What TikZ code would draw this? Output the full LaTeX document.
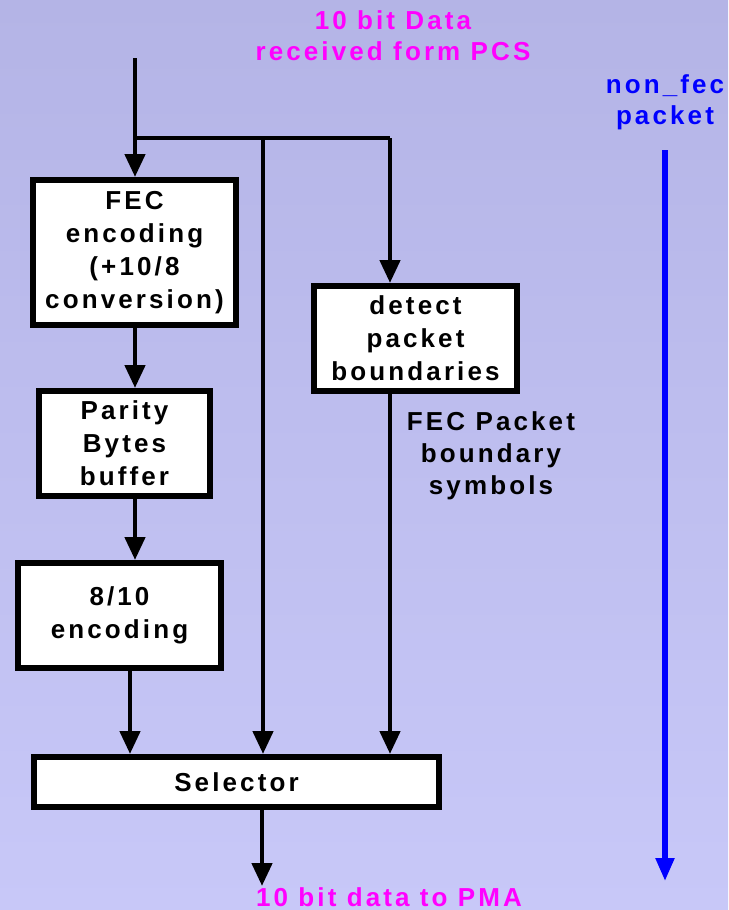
\documentclass[tikz,border=0pt]{standalone}
\usepackage{fontspec}
\setmainfont{Liberation Sans}[LetterSpace=12]
\usetikzlibrary{arrows.meta,shadings}
\definecolor{bgtop}{RGB}{180,180,230}
\definecolor{bgbot}{RGB}{200,200,248}
\definecolor{lblmag}{RGB}{255,0,255}
\definecolor{lblblue}{RGB}{0,0,255}
\tikzset{
  blk/.style={draw=black, line width=3pt, fill=white, inner sep=0pt,
    align=center, font=\fontsize{13}{16.5}\selectfont\bfseries},
  wire/.style={line width=2.3pt, draw=black},
  arr/.style={wire, -{Triangle[length=11.5pt,width=10pt]}},
  bluearr/.style={line width=2.6pt, draw=lblblue, -{Triangle[length=11.5pt,width=9pt]}},
  lbl/.style={inner sep=0pt, align=center, font=\fontsize{13}{15.5}\selectfont\bfseries},
}
\begin{document}
\begin{tikzpicture}[x=0.5pt, y=-0.5pt]
  % background
  \shade[top color=bgtop, bottom color=bgbot] (0,0) rectangle (728,910);
  \useasboundingbox (0,0) rectangle (728,910);

  % blocks
  \node[blk, minimum width=101.5pt, minimum height=72.5pt] (fec) at (134.5,252.5)
    {FEC\\encoding\\(+10/8\\conversion)};
  \node[blk, minimum width=85.5pt, minimum height=52.5pt] (parity) at (124.5,443.5)
    {Parity\\Bytes\\buffer};
  \node[blk, minimum width=101.5pt, minimum height=52.5pt] (enc) at (119.5,615.5)
    {8/10\\encoding};
  \node[blk, minimum width=101.5pt, minimum height=52.5pt] (detect) at (415.5,338.5)
    {detect\\packet\\boundaries};
  \node[blk, minimum width=202.5pt, minimum height=25pt] (sel) at (236.5,782)
    {Selector};

  % free ends and junctions
  \coordinate (in) at (135,58);
  \coordinate (j0) at (135,138);
  \coordinate (j1) at (263,138);
  \coordinate (j2) at (390,138);
  \coordinate (out) at (262,886);
  \coordinate (bA) at (665,150);
  \coordinate (bB) at (665,881);

  % data path
  \draw[arr] (in) -- (in |- fec.north);
  \draw[wire] (j0) -- (j2);
  \draw[arr] (j1) -- (j1 |- sel.north);
  \draw[arr] (j2) -- (j2 |- detect.north);
  \draw[arr] (j0 |- fec.south) -- (j0 |- parity.north);
  \draw[arr] (j0 |- parity.south) -- (j0 |- enc.north);
  \draw[arr] ([xshift=-2.5pt]j0 |- enc.south) -- ([xshift=-2.5pt]j0 |- sel.north);
  \draw[arr] (j2 |- detect.south) -- (j2 |- sel.north);
  \draw[arr] (sel.south -| out) -- (out);
  \draw[bluearr] (bA) -- (bB);

  % labels
  \node[lbl, text=lblmag] (src) at (393,36) {10 bit Data\\received form PCS};
  \node[lbl, text=lblmag] (dst) at (389,897) {10 bit data to PMA};
  \node[lbl, text=lblblue] (nf) at (665,102) {non\_fec\\packet};
  \node[lbl, font=\fontsize{13}{16}\selectfont\bfseries] (sym) at (491,456)
    {FEC Packet\\boundary\\symbols};
\end{tikzpicture}
\end{document}
